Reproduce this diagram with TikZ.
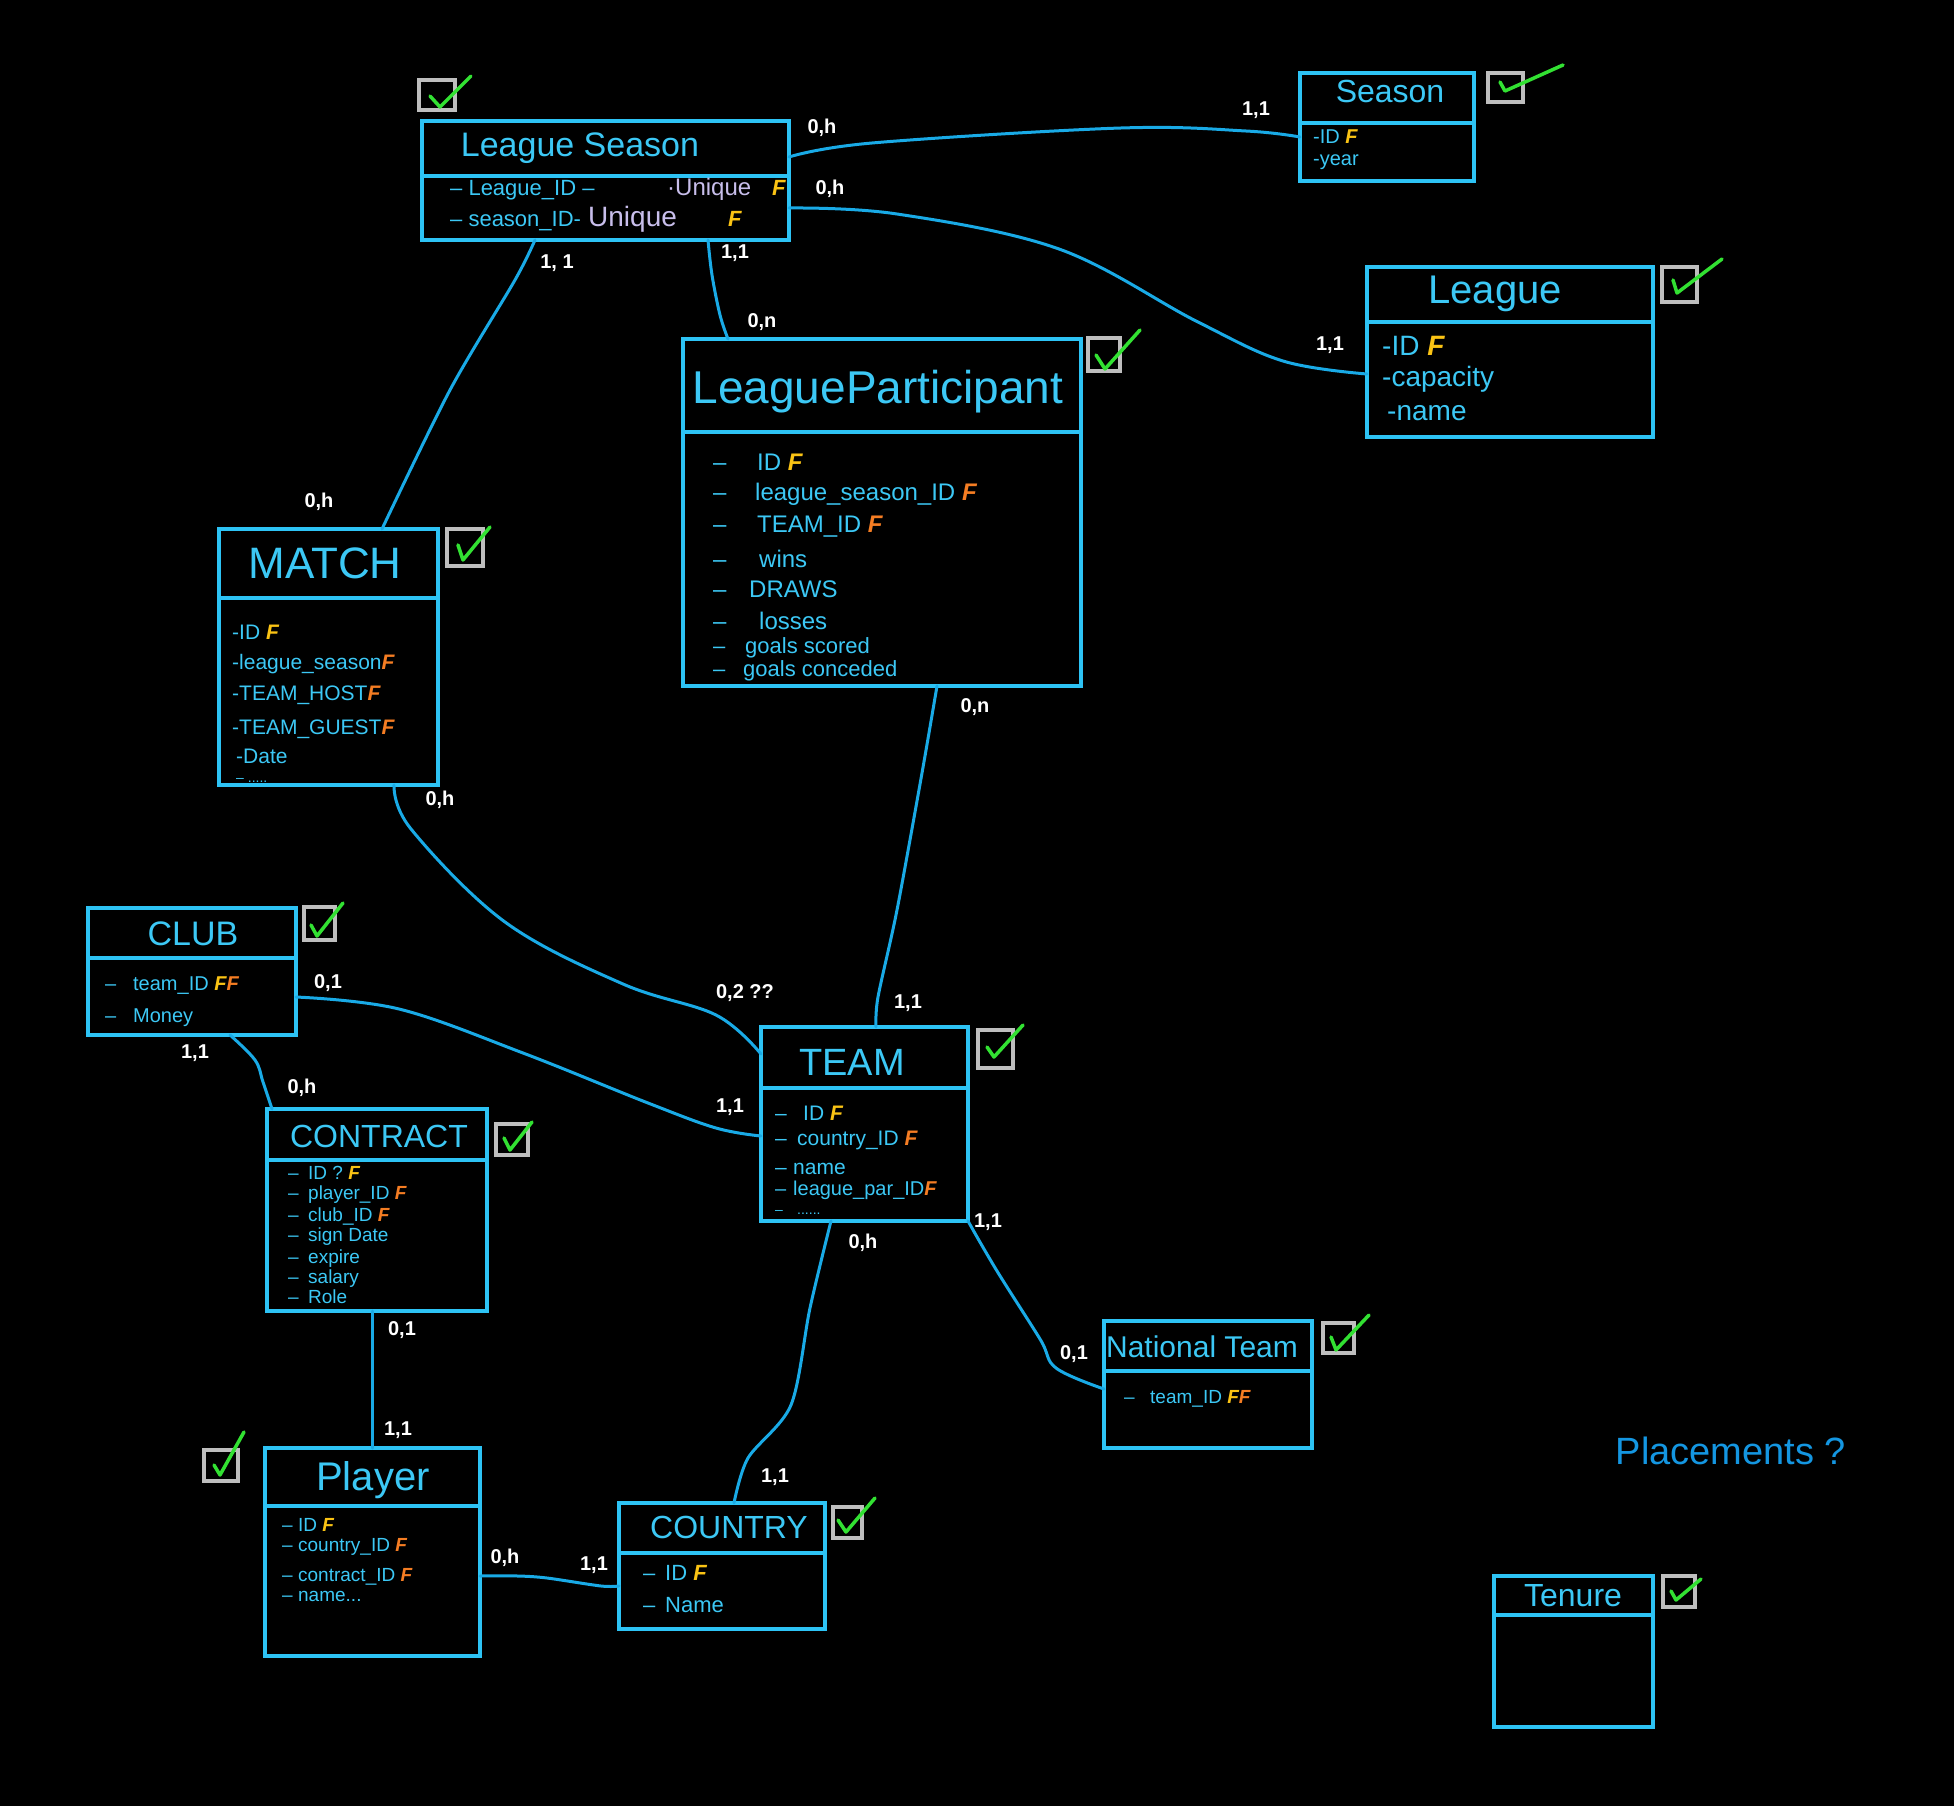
\documentclass[tikz,border=0pt]{standalone}
\usepackage{fontspec}
\setmainfont{Liberation Sans}
\usetikzlibrary{calc}
\definecolor{boxc}{RGB}{45,195,245}
\definecolor{linec}{RGB}{25,170,230}
\definecolor{txtc}{RGB}{60,200,245}
\definecolor{pkc}{RGB}{250,195,20}
\definecolor{fkc}{RGB}{245,125,35}
\definecolor{uniq}{RGB}{200,190,235}
\definecolor{chkc}{RGB}{190,190,190}
\definecolor{tickc}{RGB}{50,225,50}
\definecolor{plc}{RGB}{20,150,225}
\newcommand{\fs}[1]{\fontsize{#1}{#1}\selectfont}
\newcommand{\pk}{{\color{pkc}\bfseries\itshape F}}
\newcommand{\fk}{{\color{fkc}\bfseries\itshape F}}
\newcommand{\dsh}[1]{\makebox[#1][l]{–}}
\tikzset{
  ent/.style={draw=boxc, line width=4pt, anchor=north west, inner sep=0pt, outer sep=0pt},
  divl/.style={draw=boxc, line width=4pt},
  chk/.style={draw=chkc, line width=3.5pt, anchor=north west, inner sep=0pt, outer sep=0pt},
  tickst/.style={draw=tickc, line width=3.5pt, line cap=round, line join=round},
  title/.style={text=txtc, font=\fs{#1}, inner sep=0pt, anchor=base},
  attr/.style={text=txtc, font=\fs{#1}, inner sep=0pt, anchor=base west},
  card/.style={text=white, font=\fs{20}\bfseries, inner sep=0pt},
  conn/.style={draw=linec, line width=3pt, line cap=round, line join=round},
}
\begin{document}
\begin{tikzpicture}[x=1pt,y=-1pt]
\fill[black] (0,0) rectangle (1954,1806);
\useasboundingbox (0,0) rectangle (1954,1806);

% ---------- entities ----------
\node[ent, minimum width=367pt, minimum height=119pt] (ls) at (422,121) {};
\draw[divl] ([yshift=-55pt]ls.north west) -- ([yshift=-55pt]ls.north east);
\node[ent, minimum width=174pt, minimum height=108pt] (season) at (1300,73) {};
\draw[divl] ([yshift=-50pt]season.north west) -- ([yshift=-50pt]season.north east);
\node[ent, minimum width=286pt, minimum height=170pt] (league) at (1367,267) {};
\draw[divl] ([yshift=-55pt]league.north west) -- ([yshift=-55pt]league.north east);
\node[ent, minimum width=398pt, minimum height=347pt] (lp) at (683,339) {};
\draw[divl] ([yshift=-93pt]lp.north west) -- ([yshift=-93pt]lp.north east);
\node[ent, minimum width=219pt, minimum height=256pt] (match) at (219,529) {};
\draw[divl] ([yshift=-69pt]match.north west) -- ([yshift=-69pt]match.north east);
\node[ent, minimum width=208pt, minimum height=127pt] (club) at (88,908) {};
\draw[divl] ([yshift=-50pt]club.north west) -- ([yshift=-50pt]club.north east);
\node[ent, minimum width=220pt, minimum height=202pt] (contract) at (267,1109) {};
\draw[divl] ([yshift=-51pt]contract.north west) -- ([yshift=-51pt]contract.north east);
\node[ent, minimum width=207pt, minimum height=194pt] (team) at (761,1027) {};
\draw[divl] ([yshift=-61pt]team.north west) -- ([yshift=-61pt]team.north east);
\node[ent, minimum width=208pt, minimum height=127pt] (nt) at (1104,1321) {};
\draw[divl] ([yshift=-50pt]nt.north west) -- ([yshift=-50pt]nt.north east);
\node[ent, minimum width=215pt, minimum height=208pt] (player) at (265,1448) {};
\draw[divl] ([yshift=-58pt]player.north west) -- ([yshift=-58pt]player.north east);
\node[ent, minimum width=206pt, minimum height=126pt] (country) at (619,1503) {};
\draw[divl] ([yshift=-50pt]country.north west) -- ([yshift=-50pt]country.north east);
\node[ent, minimum width=159pt, minimum height=151pt] (tenure) at (1494,1576) {};
\draw[divl] ([yshift=-39pt]tenure.north west) -- ([yshift=-39pt]tenure.north east);

% ---------- titles ----------
\node[title=34] (lsT) at (580,157) {League Season};
\node[title=32] (seasonT) at (1390,103) {Season};
\node[title=40] (leagueT) at (1495,303) {League};
\node[title=46] (lpT) at (878,403) {LeagueParticipant};
\node[title=44] (matchT) at (325,578) {MATCH};
\node[title=34] (clubT) at (193,945) {CLUB};
\node[title=32] (contractT) at (379,1147) {CONTRACT};
\node[title=38] (teamT) at (852,1075) {TEAM};
\node[title=30] (ntT) at (1202,1357) {National Team};
\node[title=40] (playerT) at (373,1490) {Player};
\node[title=32] (countryT) at (729,1538) {COUNTRY};
\node[title=32] (tenureT) at (1573,1606) {Tenure};
\node[title=38, text=plc] (placT) at (1731,1464) {Placements ?};

% ---------- attributes ----------
\node[attr=22] (ls1) at (450,196) {– League\_ID –};
\node[attr=24, text=uniq] (ls1u) at (667,196) {·Unique};
\node[attr=22] (ls1k) at (772,196) {\pk};
\node[attr=22] (ls2) at (450,226) {– season\_ID-};
\node[attr=28, text=uniq] (ls2u) at (588,226) {Unique};
\node[attr=22] (ls2k) at (728,226) {\pk};

\node[attr=20] (se1) at (1313,144) {-ID \pk};
\node[attr=20] (se2) at (1313,166) {-year};

\node[attr=28] (lg1) at (1382,355) {-ID \pk};
\node[attr=28] (lg2) at (1382,386) {-capacity};
\node[attr=28] (lg3) at (1387,420) {-name};

\node[attr=24] (lp1) at (713,470) {\dsh{44pt}ID \pk};
\node[attr=24] (lp2) at (713,500) {\dsh{42pt}league\_season\_ID \fk};
\node[attr=24] (lp3) at (713,532) {\dsh{44pt}TEAM\_ID \fk};
\node[attr=24] (lp4) at (713,567) {\dsh{46pt}wins};
\node[attr=24] (lp5) at (713,597) {\dsh{36pt}DRAWS};
\node[attr=24] (lp6) at (713,629) {\dsh{46pt}losses};
\node[attr=22] (lp7) at (713,653) {\dsh{32pt}goals scored};
\node[attr=22] (lp8) at (713,676) {\dsh{30pt}goals conceded};

\node[attr=21] (m1) at (232,639) {-ID \pk};
\node[attr=21] (m2) at (232,669) {-league\_season\fk};
\node[attr=21] (m3) at (232,700) {-TEAM\_HOST\fk};
\node[attr=21] (m4) at (232,734) {-TEAM\_GUEST\fk};
\node[attr=21] (m5) at (236,763) {-Date};
\node[attr=14] (m6) at (236,782) {–  .....};

\node[attr=20] (cl1) at (105,990) {\dsh{28pt}team\_ID \pk\fk};
\node[attr=20] (cl2) at (105,1022) {\dsh{28pt}Money};

\node[attr=19] (ct1) at (288,1179) {\dsh{20pt}ID ? \pk};
\node[attr=19] (ct2) at (288,1199) {\dsh{20pt}player\_ID \fk};
\node[attr=19] (ct3) at (288,1221) {\dsh{20pt}club\_ID \fk};
\node[attr=19] (ct4) at (288,1241) {\dsh{20pt}sign Date};
\node[attr=19] (ct5) at (288,1263) {\dsh{20pt}expire};
\node[attr=19] (ct6) at (288,1283) {\dsh{20pt}salary};
\node[attr=19] (ct7) at (288,1303) {\dsh{20pt}Role};

\node[attr=21] (tm1) at (775,1120) {\dsh{28pt}ID \pk};
\node[attr=21] (tm2) at (775,1145) {\dsh{22pt}country\_ID \fk};
\node[attr=21] (tm3) at (775,1174) {\dsh{18pt}name};
\node[attr=20] (tm4) at (775,1195) {\dsh{18pt}league\_par\_ID\fk};
\node[attr=14] (tm5) at (775,1214) {\dsh{22pt}......};

\node[attr=19] (pl1) at (282,1531) {\dsh{16pt}ID \pk};
\node[attr=19] (pl2) at (282,1551) {\dsh{16pt}country\_ID \fk};
\node[attr=19] (pl3) at (282,1581) {\dsh{16pt}contract\_ID \fk};
\node[attr=19] (pl4) at (282,1601) {\dsh{16pt}name...};

\node[attr=22] (co1) at (643,1580) {\dsh{22pt}ID \pk};
\node[attr=22] (co2) at (643,1612) {\dsh{22pt}Name};

\node[attr=19] (nt1) at (1124,1403) {\dsh{26pt}team\_ID \pk\fk};

% ---------- checkboxes ----------
\node[chk, minimum width=36pt, minimum height=30pt] (lsck) at (419,80) {};
\draw[tickst] (430,96) -- (440,107) -- (471,76);
\node[chk, minimum width=32pt, minimum height=33pt] (lpck) at (1088,338) {};
\draw[tickst] (1096,355) -- (1105,369) -- (1140,330);
\node[chk, minimum width=36pt, minimum height=37pt] (matchck) at (447,529) {};
\draw[tickst] (458,545) -- (463,560) -- (490,527);
\node[chk, minimum width=35pt, minimum height=29pt] (seasonck) at (1488,73) {};
\draw[tickst] (1500,82) -- (1505,91) -- (1563,65);
\node[chk, minimum width=35pt, minimum height=35pt] (leagueck) at (1662,267) {};
\draw[tickst] (1673,280) -- (1677,293) -- (1722,259);
\node[chk, minimum width=31pt, minimum height=33pt] (clubck) at (304,907) {};
\draw[tickst] (311,925) -- (317,936) -- (343,903);
\node[chk, minimum width=32pt, minimum height=31pt] (contractck) at (496,1124) {};
\draw[tickst] (504,1138) -- (510,1150) -- (532,1122);
\node[chk, minimum width=35pt, minimum height=38pt] (teamck) at (978,1030) {};
\draw[tickst] (987,1047) -- (994,1057) -- (1023,1025);
\node[chk, minimum width=31pt, minimum height=30pt] (ntck) at (1323,1323) {};
\draw[tickst] (1331,1337) -- (1336,1350) -- (1369,1315);
\node[chk, minimum width=34pt, minimum height=31pt] (playerck) at (204,1450) {};
\draw[tickst] (214,1465) -- (220,1475) -- (244,1432);
\node[chk, minimum width=29pt, minimum height=31pt] (countryck) at (833,1507) {};
\draw[tickst] (838,1520) -- (846,1532) -- (875,1498);
\node[chk, minimum width=32pt, minimum height=31pt] (tenureck) at (1663,1576) {};
\draw[tickst] (1671,1591) -- (1676,1600) -- (1701,1579);

% ---------- connector end points ----------
\coordinate (a1) at ([yshift=-36pt]ls.north east);
\coordinate (a2) at ([yshift=-64pt]season.north west);
\coordinate (b1) at ([yshift=-87pt]ls.north east);
\coordinate (b2) at ([yshift=-107pt]league.north west);
\coordinate (c1) at ([xshift=113pt]ls.south west);
\coordinate (c2) at ([xshift=163pt]match.north west);
\coordinate (d1) at ([xshift=286pt]ls.south west);
\coordinate (d2) at ([xshift=45pt]lp.north west);
\coordinate (e1) at ([xshift=254pt]lp.south west);
\coordinate (e2) at ([xshift=115pt]team.north west);
\coordinate (f1) at ([xshift=175pt]match.south west);
\coordinate (f2) at ([yshift=-27pt]team.north west);
\coordinate (g1) at ([yshift=-89pt]club.north east);
\coordinate (g2) at ([yshift=-109pt]team.north west);
\coordinate (h1) at ([xshift=142pt]club.south west);
\coordinate (h2) at ([xshift=5pt]contract.north west);
\coordinate (i1) at ([xshift=105pt]contract.south west);
\coordinate (i2) at ([xshift=107pt]player.north west);
\coordinate (j1) at ([xshift=70pt]team.south west);
\coordinate (j2) at ([xshift=115pt]country.north west);
\coordinate (k1) at (team.south east);
\coordinate (k2) at ([yshift=-68pt]nt.north west);
\coordinate (l1) at ([yshift=-128pt]player.north east);
\coordinate (l2) at ([yshift=-83pt]country.north west);

% ---------- connectors ----------
\draw[conn] plot[smooth, tension=0.6] coordinates {(a1) (872,143) (1121,128) (1246,131) (a2)};
\draw[conn] plot[smooth, tension=0.6] coordinates {(b1) (897,214) (1059,249) (1196,321) (1283,361) (b2)};
\draw[conn] plot[smooth, tension=0.5] coordinates {(c1) (515,280) (450,390) (c2)};
\draw[conn] plot[smooth, tension=0.6] coordinates {(d1) (712,275) (720,315) (d2)};
\draw[conn] plot[smooth, tension=0.5] coordinates {(e1) (922,773) (897,910) (878,997) (e2)};
\draw[conn] plot[smooth, tension=0.6] coordinates {(f1) (411,829) (505,922) (623,984) (716,1015) (f2)};
\draw[conn] plot[smooth, tension=0.6] coordinates {(g1) (399,1009) (523,1053) (648,1103) (716,1128) (g2)};
\draw[conn] plot[smooth, tension=0.6] coordinates {(h1) (255,1060) (263,1082) (h2)};
\draw[conn] (i1) -- (i2);
\draw[conn] plot[smooth, tension=0.5] coordinates {(j1) (810,1308) (791,1405) (748,1458) (j2)};
\draw[conn] plot[smooth, tension=0.6] coordinates {(k1) (997,1271) (1040,1339) (1056,1368) (k2)};
\draw[conn] plot[smooth, tension=0.5] coordinates {(l1) (518,1576) (547,1578) (601,1586) (l2)};

% ---------- cardinalities ----------
\node[card] (n1) at (822,128) {0,h};
\node[card] (n2) at (830,189) {0,h};
\node[card] (n3) at (557,263) {1, 1};
\node[card] (n4) at (735,253) {1,1};
\node[card] (n5) at (762,322) {0,n};
\node[card] (n6) at (1256,110) {1,1};
\node[card] (n7) at (1330,345) {1,1};
\node[card] (n8) at (319,502) {0,h};
\node[card] (n9) at (440,800) {0,h};
\node[card] (n10) at (975,707) {0,n};
\node[card] (n11) at (745,993) {0,2 ??};
\node[card] (n12) at (908,1003) {1,1};
\node[card] (n13) at (730,1107) {1,1};
\node[card] (n14) at (328,983) {0,1};
\node[card] (n15) at (195,1053) {1,1};
\node[card] (n16) at (302,1088) {0,h};
\node[card] (n17) at (863,1243) {0,h};
\node[card] (n18) at (988,1222) {1,1};
\node[card] (n19) at (1074,1354) {0,1};
\node[card] (n20) at (402,1330) {0,1};
\node[card] (n21) at (398,1430) {1,1};
\node[card] (n22) at (505,1558) {0,h};
\node[card] (n23) at (594,1565) {1,1};
\node[card] (n24) at (775,1477) {1,1};
\end{tikzpicture}
\end{document}
